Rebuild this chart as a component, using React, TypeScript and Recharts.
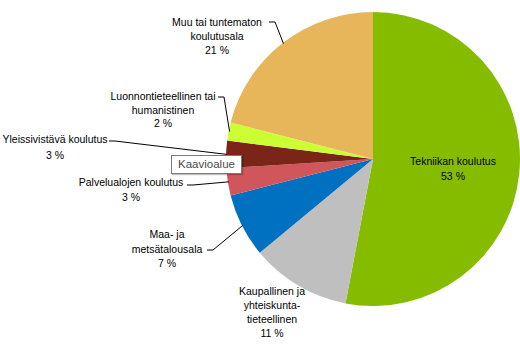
import React from 'react';
import { PieChart, Pie, Cell } from 'recharts';

const categories = [
  'Tekniikan koulutus',
  'Kaupallinen ja yhteiskuntatieteellinen',
  'Maa- ja metsätalousala',
  'Palvelualojen koulutus',
  'Yleissivistävä koulutus',
  'Luonnontieteellinen tai humanistinen',
  'Muu tai tuntematon koulutusala',
];
const values = [53, 11, 7, 3, 3, 2, 21];
const labelLines = [
  ['Tekniikan koulutus'],
  ['Kaupallinen ja', 'yhteiskunta-', 'tieteellinen'],
  ['Maa- ja', 'metsätalousala'],
  ['Palvelualojen koulutus'],
  ['Yleissivistävä koulutus'],
  ['Luonnontieteellinen tai', 'humanistinen'],
  ['Muu tai tuntematon', 'koulutusala'],
];
const colors = ['#86BC00', '#BFBFBF', '#0070C0', '#D0565C', '#7B2418', '#CCFF33', '#E8B65A'];

const data = categories.map((name, i) => ({ name, value: values[i] }));

// label layout relative to pie centre (text x, first line y, line step, leader start & elbow)
const layout = [
  { x: 80, y: 2, step: 15, lead: null },
  { x: -101, y: 132, step: 14, lead: null },
  { x: -206, y: 75, step: 14.5, lead: [-166, 91, -160, 91] },
  { x: -242, y: 23, step: 15, lead: [-186, 26, -180, 26] },
  { x: -318, y: -20, step: 16, lead: [-264, -18, -258, -18] },
  { x: -210, y: -63, step: 13.5, lead: [-155, -62, -149, -62] },
  { x: -156, y: -137, step: 14, lead: [-104, -137, -98, -137] },
];

const RAD = Math.PI / 180;

const renderLabel = (props: any) => {
  const { cx, cy, midAngle, outerRadius, index } = props;
  const L = layout[index];
  const lines = [...labelLines[index], `${values[index]} %`];
  const ex = cx + (outerRadius - 1) * Math.cos(-midAngle * RAD);
  const ey = cy + (outerRadius - 1) * Math.sin(-midAngle * RAD);
  return (
    <g key={`lbl-${index}`}>
      {L.lead && (
        <polyline
          points={`${cx + L.lead[0]},${cy + L.lead[1]} ${cx + L.lead[2]},${cy + L.lead[3]} ${ex},${ey}`}
          fill="none"
          stroke="#000"
          strokeWidth={1}
        />
      )}
      {lines.map((t, k) => (
        <text
          key={k}
          x={cx + L.x}
          y={cy + L.y + k * L.step}
          textAnchor="middle"
          dominantBaseline="central"
          fontSize={10.5}
          fontFamily="'Liberation Sans', Arial, sans-serif"
          fill="#000"
        >
          {t}
        </text>
      ))}
    </g>
  );
};

export default function App() {
  return (
    <div style={{ position: 'absolute', left: 0, top: 0, width: 520, height: 352, background: '#fff' }}>
      <PieChart width={520} height={352} margin={{ top: 0, right: 0, bottom: 0, left: 0 }}>
        <Pie
          data={data}
          dataKey="value"
          nameKey="name"
          cx={373}
          cy={159}
          outerRadius={147}
          startAngle={90}
          endAngle={-270}
          stroke="none"
          label={renderLabel}
          labelLine={false}
          isAnimationActive={false}
        >
          {data.map((d, i) => (
            <Cell key={d.name} fill={colors[i]} />
          ))}
        </Pie>
      </PieChart>
      <div
        style={{
          position: 'absolute',
          left: 171,
          top: 155,
          width: 69,
          height: 17,
          border: '1px solid #7a7a7a',
          background: '#fff',
          boxShadow: '1px 1px 1px rgba(0,0,0,0.25)',
          fontFamily: "'Liberation Sans', Arial, sans-serif",
          fontSize: 11.5,
          color: '#4a4a4a',
          textAlign: 'center',
          lineHeight: '17px',
        }}
      >
        Kaavioalue
      </div>
    </div>
  );
}
